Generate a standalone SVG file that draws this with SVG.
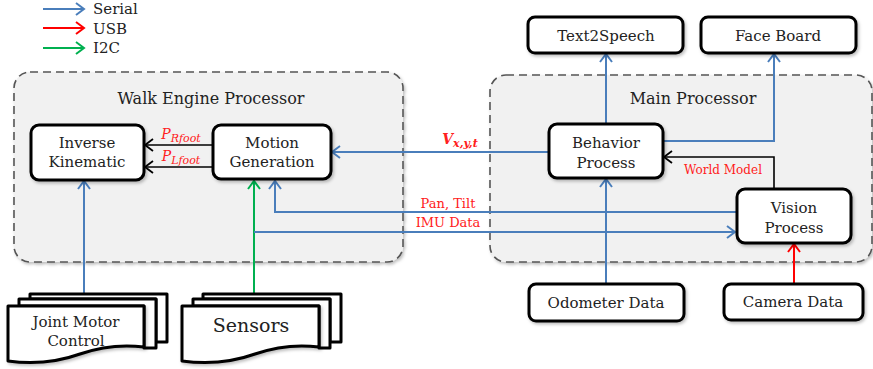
<svg xmlns="http://www.w3.org/2000/svg" width="873" height="369" viewBox="0 0 873 369">
  <style>
    text { font-family: "DejaVu Serif", "Liberation Serif", serif; }
    .lbl { fill: #222; text-anchor: middle; }
    .box { fill: #fff; stroke: #000; stroke-width: 3; }
    .group { fill: #f1f1f1; stroke: #555; stroke-width: 1.6; stroke-dasharray: 8 5; }
    .doc { fill: #fff; stroke: #000; stroke-width: 3; stroke-linejoin: round; }
    .ser { stroke: #4a7ebb; stroke-width: 2; fill: none; }
    .usb { stroke: #ff0000; stroke-width: 2; fill: none; }
    .i2c { stroke: #00b050; stroke-width: 2; fill: none; }
    .blk { stroke: #000; stroke-width: 1.6; fill: none; }
    .red { fill: #ff2020; text-anchor: middle; }
  </style>
  <defs>
    <marker id="aBlue" markerWidth="14" markerHeight="14" refX="11" refY="7" orient="auto" markerUnits="userSpaceOnUse">
      <path d="M3,1 L11,7 L3,13" fill="none" stroke="#4a7ebb" stroke-width="2"/>
    </marker>
    <marker id="aRed" markerWidth="14" markerHeight="14" refX="11" refY="7" orient="auto" markerUnits="userSpaceOnUse">
      <path d="M3,1 L11,7 L3,13" fill="none" stroke="#ff0000" stroke-width="2"/>
    </marker>
    <marker id="aGreen" markerWidth="14" markerHeight="14" refX="11" refY="7" orient="auto" markerUnits="userSpaceOnUse">
      <path d="M3,1 L11,7 L3,13" fill="none" stroke="#00b050" stroke-width="2"/>
    </marker>
    <marker id="aBlack" markerWidth="14" markerHeight="14" refX="11" refY="7" orient="auto" markerUnits="userSpaceOnUse">
      <path d="M3,1 L11,7 L3,13" fill="none" stroke="#000" stroke-width="1.8"/>
    </marker>
    <filter id="shadow" x="-10%" y="-10%" width="130%" height="140%">
      <feDropShadow dx="1.5" dy="2" stdDeviation="1.5" flood-color="#000" flood-opacity="0.25"/>
    </filter>
  </defs>

  <!-- legend -->
  <g id="legend">
    <line x1="43" y1="9" x2="84" y2="9" class="ser" marker-end="url(#aBlue)"/>
    <line x1="43" y1="28" x2="84" y2="28" class="usb" marker-end="url(#aRed)"/>
    <line x1="43" y1="48" x2="84" y2="48" class="i2c" marker-end="url(#aGreen)"/>
    <text x="93" y="14" font-size="15" fill="#222">Serial</text>
    <text x="93" y="34" font-size="15" fill="#222">USB</text>
    <text x="93" y="53" font-size="15" fill="#222">I2C</text>
  </g>

  <!-- processor containers -->
  <g id="walk-engine">
    <rect x="14" y="72" width="389" height="190" rx="16" class="group" filter="url(#shadow)"/>
    <text x="211" y="104" class="lbl" font-size="16">Walk Engine Processor</text>
  </g>
  <g id="main-processor">
    <rect x="490" y="75" width="382" height="187" rx="16" class="group" filter="url(#shadow)"/>
    <text x="693" y="104" class="lbl" font-size="16">Main Processor</text>
  </g>

  <!-- connectors -->
  <g id="connectors">
    <!-- foot poses -->
    <line x1="213" y1="145" x2="145" y2="145" class="blk" marker-end="url(#aBlack)"/>
    <line x1="213" y1="167" x2="145" y2="167" class="blk" marker-end="url(#aBlack)"/>
    <!-- joint motor control to IK -->
    <line x1="84" y1="294" x2="84" y2="181" class="ser" marker-end="url(#aBlue)"/>
    <!-- sensors to motion generation -->
    <line x1="254" y1="294" x2="254" y2="181" class="i2c" marker-end="url(#aGreen)"/>
    <!-- velocity command -->
    <line x1="549" y1="152" x2="332" y2="152" class="ser" marker-end="url(#aBlue)"/>
    <!-- pan/tilt -->
    <polyline points="737,212 275,212 275,181" class="ser" marker-end="url(#aBlue)"/>
    <!-- IMU data -->
    <polyline points="254,232 735,232" class="ser" marker-end="url(#aBlue)"/>
    <!-- behavior to outputs -->
    <line x1="606" y1="124" x2="606" y2="54" class="ser" marker-end="url(#aBlue)"/>
    <polyline points="663,141 774,141 774,54" class="ser" marker-end="url(#aBlue)"/>
    <!-- world model -->
    <polyline points="774,189 774,157 664,157" class="blk" marker-end="url(#aBlack)"/>
    <!-- odometer -->
    <line x1="606" y1="284" x2="606" y2="179" class="ser" marker-end="url(#aBlue)"/>
    <!-- camera -->
    <line x1="794" y1="284" x2="794" y2="244" class="usb" marker-end="url(#aRed)"/>

    <!-- connector labels -->
    <text x="181" y="139" class="red" font-size="14" font-style="italic">P<tspan font-size="11" dy="3">Rfoot</tspan></text>
    <text x="181" y="161" class="red" font-size="14" font-style="italic">P<tspan font-size="11" dy="3">Lfoot</tspan></text>
    <text x="460" y="144" class="red" font-size="14" font-style="italic" font-weight="bold">V<tspan font-size="11" dy="3">x,y,t</tspan></text>
    <text x="448" y="208" class="red" font-size="13">Pan, Tilt</text>
    <text x="448" y="227" class="red" font-size="13">IMU Data</text>
    <text x="723" y="174" class="red" font-size="12">World Model</text>
  </g>

  <!-- nodes -->
  <g id="inverse-kinematic">
    <rect x="31" y="125" width="113" height="55" rx="8" class="box" filter="url(#shadow)"/>
    <text x="87" y="148" class="lbl" font-size="15">Inverse</text>
    <text x="87" y="167" class="lbl" font-size="15">Kinematic</text>
  </g>
  <g id="motion-generation">
    <rect x="213" y="125" width="118" height="54" rx="8" class="box" filter="url(#shadow)"/>
    <text x="272" y="148" class="lbl" font-size="15">Motion</text>
    <text x="272" y="167" class="lbl" font-size="15">Generation</text>
  </g>
  <g id="text2speech">
    <rect x="528" y="17" width="155" height="36" rx="7" class="box" filter="url(#shadow)"/>
    <text x="606" y="41" class="lbl" font-size="15">Text2Speech</text>
  </g>
  <g id="face-board">
    <rect x="701" y="17" width="155" height="36" rx="7" class="box" filter="url(#shadow)"/>
    <text x="778" y="41" class="lbl" font-size="15">Face Board</text>
  </g>
  <g id="behavior-process">
    <rect x="549" y="124" width="114" height="54" rx="8" class="box" filter="url(#shadow)"/>
    <text x="606" y="148" class="lbl" font-size="15">Behavior</text>
    <text x="606" y="168" class="lbl" font-size="15">Process</text>
  </g>
  <g id="vision-process">
    <rect x="737" y="189" width="114" height="54" rx="8" class="box" filter="url(#shadow)"/>
    <text x="794" y="213" class="lbl" font-size="15">Vision</text>
    <text x="794" y="233" class="lbl" font-size="15">Process</text>
  </g>
  <g id="odometer-data">
    <rect x="529" y="284" width="155" height="37" rx="7" class="box" filter="url(#shadow)"/>
    <text x="606" y="308" class="lbl" font-size="15">Odometer Data</text>
  </g>
  <g id="camera-data">
    <rect x="724" y="284" width="139" height="36" rx="7" class="box" filter="url(#shadow)"/>
    <text x="793" y="307" class="lbl" font-size="15">Camera Data</text>
  </g>
  <g id="joint-motor-control">
    <path d="M30,294 H167 V342 H156 V299 H30 Z" class="doc"/>
    <path d="M19,299 H156 V348 H144 V306 H19 Z" class="doc"/>
    <path d="M8,306 H144 V347 C120,344 100,347 80,354 C55,363 30,364 8,361 Z" class="doc" filter="url(#shadow)"/>
    <text x="76" y="327" class="lbl" font-size="15">Joint Motor</text>
    <text x="76" y="346" class="lbl" font-size="15">Control</text>
  </g>
  <g id="sensors">
    <path d="M203,294 H341 V342 H330 V299 H203 Z" class="doc"/>
    <path d="M193,299 H330 V348 H319 V306 H193 Z" class="doc"/>
    <path d="M182,306 H319 V347 C295,344 275,347 255,354 C230,363 205,364 182,361 Z" class="doc" filter="url(#shadow)"/>
    <text x="251" y="332" class="lbl" font-size="19">Sensors</text>
  </g>
</svg>
